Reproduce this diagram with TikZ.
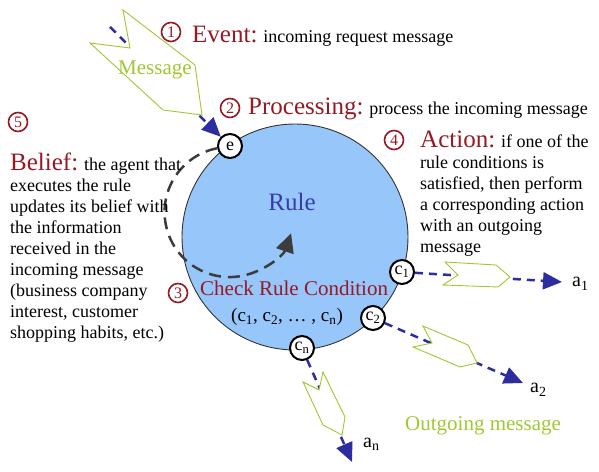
\documentclass[tikz,border=0pt]{standalone}
\usepackage{fontspec}
\setmainfont{Liberation Serif}
\usetikzlibrary{arrows.meta}
\definecolor{headred}{RGB}{150,25,35}
\definecolor{rulefill}{RGB}{150,198,250}
\definecolor{ruleblue}{RGB}{55,60,170}
\definecolor{arrowblue}{RGB}{45,45,160}
\definecolor{msggreen}{RGB}{160,200,50}
\definecolor{loopgray}{RGB}{60,60,60}

\newcommand{\headtext}[1]{{\fontsize{25}{25}\selectfont\color{headred}#1}}

\begin{document}
\begin{tikzpicture}[x=1pt, y=1pt,
  num/.style={circle, draw=headred, line width=1.6pt, text=headred, inner sep=0pt, minimum size=19pt, font=\fontsize{16}{16}\selectfont},
  cond/.style={circle, draw=black, line width=2pt, fill=white, inner sep=0pt, minimum size=24pt, font=\fontsize{18}{18}\selectfont},
  body/.style={inner sep=0pt, align=left, font=\fontsize{18}{21}\selectfont},
  alabel/.style={inner sep=0pt, font=\fontsize{20}{20}\selectfont},
  greentext/.style={inner sep=0pt, text=msggreen, font=\fontsize{21}{21}\selectfont},
  msgline/.style={-{Triangle[length=19pt,width=17pt]}, arrowblue, line width=2.5pt, dash pattern=on 8pt off 6pt},
  msgshape/.style={draw=msggreen, fill=white, line width=0.9pt}]
\useasboundingbox (0,0) rectangle (599,471);

% The rule
\draw[fill=rulefill, draw=black!80, line width=0.9pt] (295,234) circle (113);
\node[text=ruleblue, font=\fontsize{25}{25}\selectfont] (rule) at (292,269) {Rule};
\node[inner sep=0pt, anchor=base west, text=headred, font=\fontsize{21}{21}\selectfont] (check) at (200,175) {Check Rule Condition};
\node[inner sep=0pt, anchor=base, font=\fontsize{19}{19}\selectfont] (conds) at (287,149) {(c\textsubscript{1}, c\textsubscript{2}, … , c\textsubscript{n})};

% Event and conditions on the border
\node[cond] (e) at (230,325) {e};
\node[cond] (c1) at (402,199) {c\textsubscript{1}};
\node[cond] (c2) at (373,153) {c\textsubscript{2}};
\node[cond] (cn) at (302,123) {c\textsubscript{n}};

% Belief update loop
\draw[loopgray, line width=2.5pt, dash pattern=on 12pt off 7pt, -{Triangle[length=19pt,width=18pt]}]
  (e.190) arc[start angle=101, end angle=341, radius=65];

% Incoming message
\coordinate (src) at (110,444);
\draw[msgline] (src) -- (e.135);
\draw[msgshape] (123,461) -- (195,406) -- (202,356) -- (163,361) -- (90,428) -- (130,423) -- cycle;
\node[greentext, anchor=base west] (msg) at (118,396) {Message};

% Outgoing messages
\coordinate (t1) at (562,189);
\coordinate (t2) at (523,88);
\coordinate (tn) at (352,9);
\draw[msgline] (c1) -- (t1);
\draw[msgline] (c2) -- (t2);
\draw[msgline] (cn) -- (tn);
\draw[msgshape] (445,209) -- (496,206) -- (510,194) -- (498,184) -- (443,186) -- (458,196) -- cycle;
\draw[msgshape] (423,145) -- (468,126) -- (477,108) -- (460,104) -- (413,124) -- (432,128) -- cycle;
\draw[msgshape] (323,99) -- (345,54) -- (342,36) -- (323,46) -- (303,89) -- (319,81) -- cycle;
\node[alabel, anchor=base west] (a1) at (572,184) {a\textsubscript{1}};
\node[alabel, anchor=base west] (a2) at (530,78) {a\textsubscript{2}};
\node[alabel, anchor=base west] (an) at (363,24) {a\textsubscript{n}};
\node[greentext, anchor=base west] (outmsg) at (405,41) {Outgoing message};

% Numbered steps
\node[num] (n1) at (171,439) {1};
\node[num] (n2) at (230,363) {2};
\node[num] (n3) at (178,178) {3};
\node[num] (n4) at (394,331) {4};
\node[num] (n5) at (18,349) {5};

% Step descriptions
\node[body, anchor=base west] (event) at (192,428) {\headtext{Event:} incoming request message};
\node[body, anchor=base west] (proc) at (248,356) {\headtext{Processing:} process the incoming message};
\node[body, anchor=north west] (action) at (420,340) {\headtext{Action:} if one of the\\rule conditions is\\satisfied, then perform\\a corresponding action\\with an outgoing\\message};
\node[body, anchor=north west] (belief) at (10,318) {\headtext{Belief:} the agent that\\executes the rule\\updates its belief with\\the information\\received in the\\incoming message\\(business company\\interest, customer\\shopping habits, etc.)};
\end{tikzpicture}
\end{document}
